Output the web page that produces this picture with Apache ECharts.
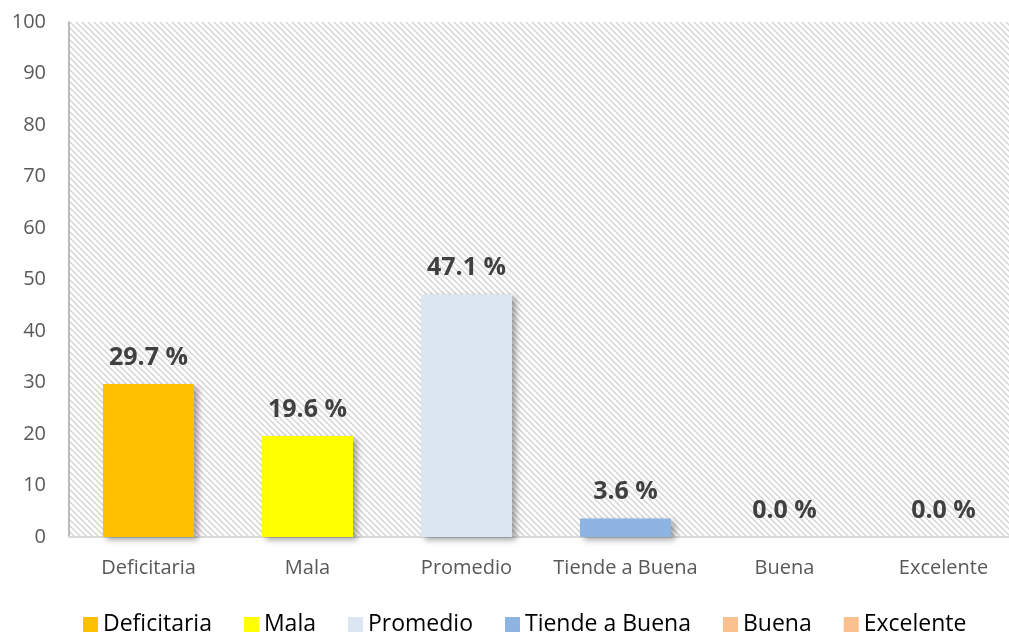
<!DOCTYPE html>
<html>
<head>
<meta charset="utf-8">
<script src="https://cdn.jsdelivr.net/npm/echarts@6/dist/echarts.min.js"></script>
<style>
  html, body { margin: 0; padding: 0; background: #fff; }
  #chart { width: 1009px; height: 634px; }
</style>
</head>
<body>
<div id="chart"></div>
<script>
// categorias y valores (%)
var categories = ["Deficitaria", "Mala", "Promedio", "Tiende a Buena", "Buena", "Excelente"];
var values = [29.7, 19.6, 47.1, 3.6, 0.0, 0.0];
var colors = ["#FFC000", "#FFFF00", "#DCE6F2", "#8EB4E3", "#FAC090", "#FAC090"];
var yTicks = [0, 10, 20, 30, 40, 50, 60, 70, 80, 90, 100];

var FONT = "Open Sans";

// fondo rayado del area de trazado
function hatch() {
  var c = document.createElement("canvas");
  c.width = 6; c.height = 6;
  var ctx = c.getContext("2d");
  ctx.fillStyle = "#ffffff";
  ctx.fillRect(0, 0, 6, 6);
  ctx.strokeStyle = "#d4d4d4";
  ctx.lineWidth = 1.4;
  ctx.beginPath();
  ctx.moveTo(-1, -1); ctx.lineTo(7, 7);
  ctx.moveTo(-1, 5); ctx.lineTo(1, 7);
  ctx.moveTo(5, -1); ctx.lineTo(7, 1);
  ctx.stroke();
  return { image: c, repeat: "repeat" };
}

var myChart = echarts.init(document.getElementById("chart"));

var series = categories.map(function (name, i) {
  var d = categories.map(function (_, j) { return j === i ? values[i] : "-"; });
  return {
    name: name,
    type: "bar",
    stack: "total",
    barWidth: 91,
    data: d,
    itemStyle: {
      color: colors[i],
      shadowColor: "rgba(0,0,0,0.35)",
      shadowBlur: 6,
      shadowOffsetX: 4,
      shadowOffsetY: 3
    },
    label: {
      show: true,
      position: "top",
      distance: 14,
      fontFamily: FONT,
      fontSize: 25,
      fontWeight: "bold",
      color: "#404040",
      formatter: function (p) { return p.value.toFixed(1) + " %"; }
    }
  };
});

myChart.setOption({
  animation: false,
  grid: {
    left: 69,
    top: 22,
    width: 954,
    bottom: 97,
    outerBoundsMode: "none",
    show: true,
    borderWidth: 0,
    backgroundColor: hatch()
  },
  legend: {
    top: 608,
    left: 78,
    itemWidth: 15,
    itemHeight: 15,
    itemGap: 32,
    icon: "rect",
    textStyle: { fontFamily: FONT, fontSize: 23, color: "#000" },
    data: categories
  },
  xAxis: {
    type: "category",
    data: categories,
    axisLine: { lineStyle: { color: "#d9d9d9", width: 2 } },
    axisTick: { show: false },
    axisLabel: { interval: 0, fontFamily: FONT, fontSize: 20, color: "#595959", margin: 21 }
  },
  yAxis: {
    type: "value",
    min: yTicks[0],
    max: yTicks[yTicks.length - 1],
    interval: 10,
    splitLine: { show: false },
    axisLine: { show: true, lineStyle: { color: "#a6a6a6", width: 1.5 } },
    axisTick: { show: false },
    axisLabel: { fontFamily: FONT, fontSize: 20, color: "#595959", margin: 23 }
  },
  series: series
});
</script>
</body>
</html>
